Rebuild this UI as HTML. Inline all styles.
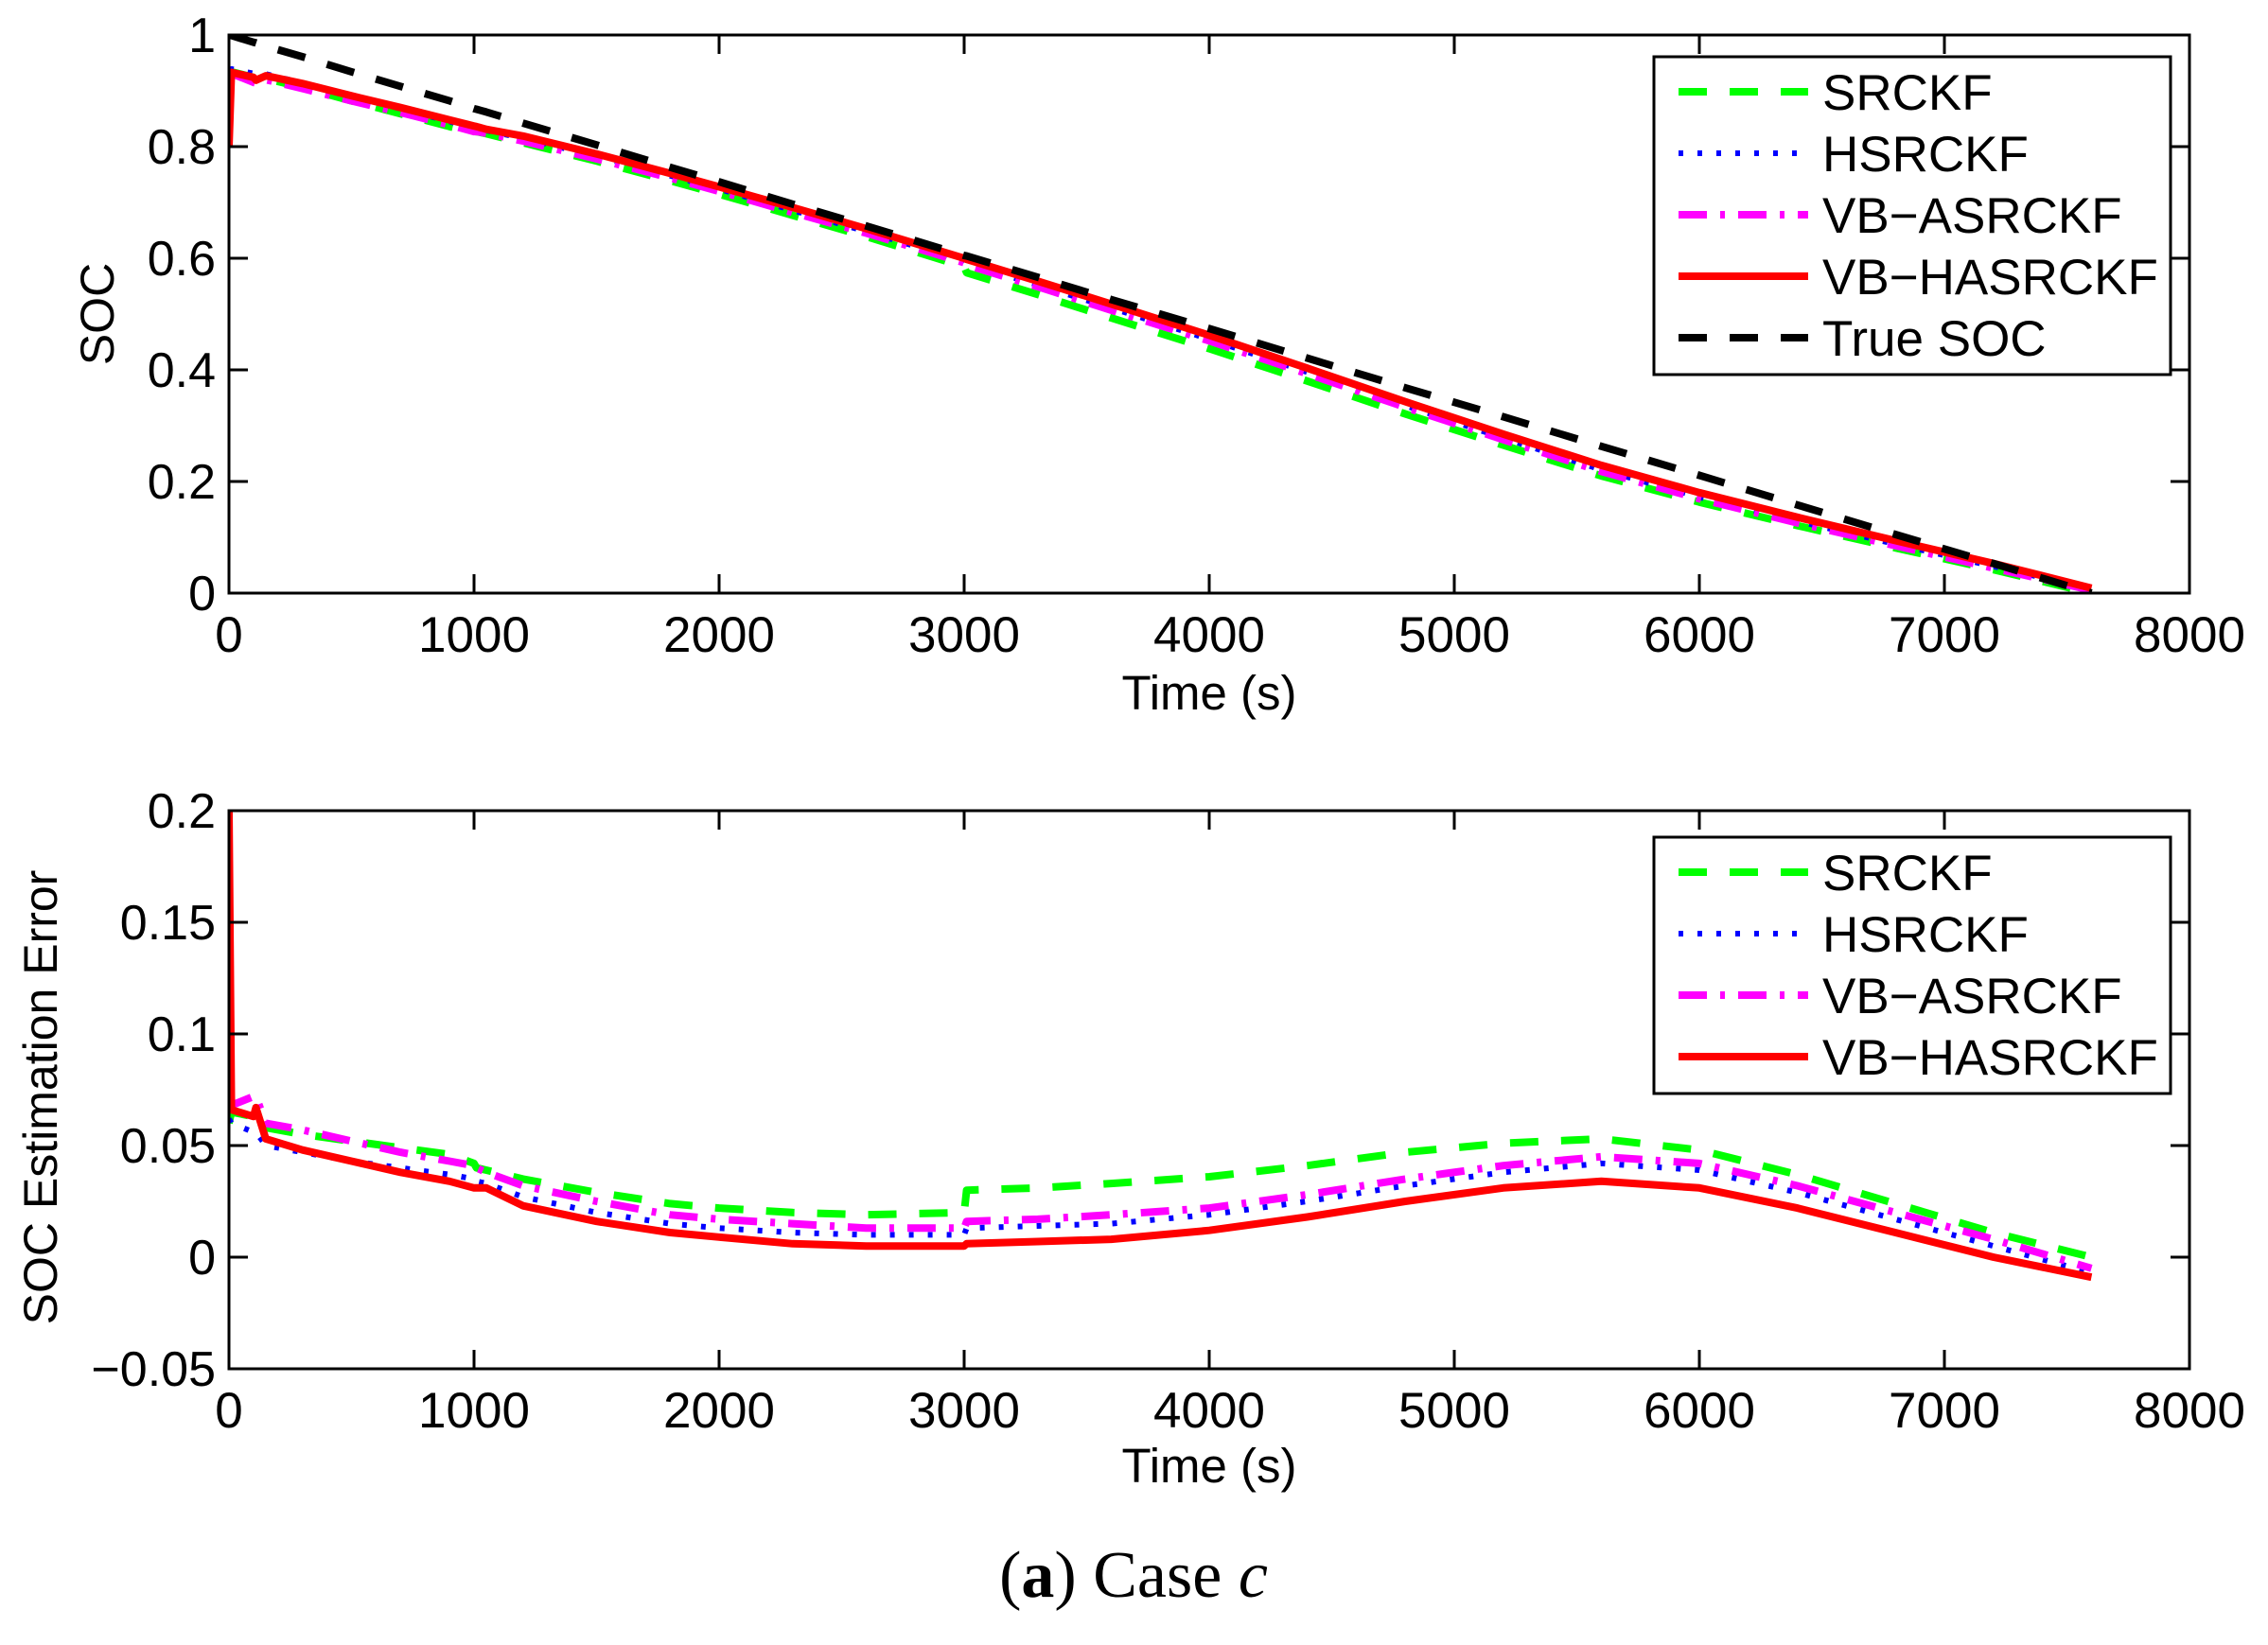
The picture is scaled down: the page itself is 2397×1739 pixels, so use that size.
<!DOCTYPE html>
<html><head><meta charset="utf-8"><style>
html,body{margin:0;padding:0;background:#fff;}
svg{display:block;}
text{font-family:"Liberation Sans",sans-serif;fill:#000;}
</style></head><body>
<svg id="fig" width="2397" height="1739" viewBox="0 0 2397 1739" xmlns="http://www.w3.org/2000/svg">
<defs>
<clipPath id="c1"><rect x="242" y="37" width="2072" height="590"/></clipPath>
<clipPath id="c2"><rect x="242" y="857" width="2072" height="590"/></clipPath>
</defs>
<g id="top"></g>
<g id="bot"></g>
<text x="1198" y="1688" text-anchor="middle" style="font-family:'Liberation Serif',serif;font-size:70px;">(<tspan font-weight="bold">a</tspan>) Case <tspan font-style="italic">c</tspan></text>
</svg>
<script>
const time=[0,10,100,110,150,300,500,700,900,1000,1010,1050,1200,1500,1800,2000,2300,2600,3000,3010,3300,3600,4000,4400,4800,5200,5600,6000,6400,6800,7200,7600];
const socTrue=[1.0,0.999,0.987,0.986,0.980,0.961,0.934,0.908,0.882,0.868,0.867,0.862,0.842,0.803,0.763,0.737,0.697,0.658,0.605,0.604,0.566,0.526,0.474,0.421,0.368,0.316,0.263,0.211,0.158,0.105,0.053,0.0];
const socSRCKF=[0.94,0.934,0.924,0.926,0.922,0.906,0.882,0.859,0.836,0.826,0.827,0.823,0.807,0.774,0.739,0.715,0.677,0.639,0.585,0.574,0.535,0.493,0.438,0.380,0.321,0.265,0.210,0.163,0.121,0.081,0.042,0.000];
const socHSRCKF=[0.938,0.939,0.931,0.930,0.930,0.914,0.891,0.868,0.845,0.833,0.833,0.829,0.815,0.783,0.748,0.724,0.686,0.648,0.595,0.591,0.552,0.511,0.455,0.396,0.336,0.278,0.221,0.172,0.129,0.088,0.048,0.007];
const socVBA=[0.935,0.931,0.915,0.914,0.920,0.904,0.882,0.861,0.839,0.827,0.827,0.824,0.810,0.778,0.744,0.720,0.682,0.645,0.592,0.588,0.549,0.507,0.452,0.393,0.333,0.275,0.218,0.169,0.126,0.085,0.045,0.005];
const socVBH=[0.80,0.933,0.924,0.919,0.927,0.913,0.891,0.870,0.848,0.837,0.836,0.831,0.819,0.787,0.752,0.728,0.691,0.653,0.600,0.598,0.559,0.518,0.462,0.403,0.343,0.285,0.229,0.180,0.136,0.094,0.053,0.009];
const errSRCKF=[0.06,0.065,0.063,0.06,0.058,0.055,0.052,0.049,0.046,0.042,0.040,0.039,0.035,0.029,0.024,0.022,0.020,0.019,0.020,0.030,0.031,0.033,0.036,0.041,0.047,0.051,0.053,0.048,0.037,0.024,0.011,0.000];
const errHSRCKF=[0.062,0.060,0.056,0.056,0.050,0.047,0.043,0.040,0.037,0.035,0.034,0.033,0.027,0.020,0.015,0.013,0.011,0.010,0.010,0.013,0.014,0.015,0.019,0.025,0.032,0.038,0.042,0.039,0.029,0.017,0.005,-0.007];
const errVBA=[0.065,0.068,0.072,0.072,0.060,0.057,0.052,0.047,0.043,0.041,0.040,0.038,0.032,0.025,0.019,0.017,0.015,0.013,0.013,0.016,0.017,0.019,0.022,0.028,0.035,0.041,0.045,0.042,0.032,0.020,0.008,-0.005];
const errVBH=[0.2,0.066,0.063,0.067,0.053,0.048,0.043,0.038,0.034,0.031,0.031,0.031,0.023,0.016,0.011,0.009,0.006,0.005,0.005,0.006,0.007,0.008,0.012,0.018,0.025,0.031,0.034,0.031,0.022,0.011,0.0,-0.009];
const xTicks=[0,1000,2000,3000,4000,5000,6000,7000,8000];
const xTickLabels=["0","1000","2000","3000","4000","5000","6000","7000","8000"];
const yTicksTop=[0,0.2,0.4,0.6,0.8,1];
const yTickLabelsTop=["0","0.2","0.4","0.6","0.8","1"];
const yTicksBot=[-0.05,0,0.05,0.1,0.15,0.2];
const yTickLabelsBot=["\u22120.05","0","0.05","0.1","0.15","0.2"];

const NS="http://www.w3.org/2000/svg";
function mk(tag,attrs,parent){const e=document.createElementNS(NS,tag);for(const k in attrs)e.setAttribute(k,attrs[k]);parent.appendChild(e);return e;}
const styles={
 green:{stroke:"#00ff00",dash:"30 24",w:8},
 blue:{stroke:"#0000ff",dash:"5 15",w:6},
 magenta:{stroke:"#ff00ff",dash:"30 14 5 14",w:8},
 red:{stroke:"#ff0000",dash:"",w:8},
 black:{stroke:"#000000",dash:"30 24",w:8}
};
function chart(g,cfg){
 const L=242,R=2314,T=cfg.top,B=cfg.bottom;
 const xs=v=>L+(v-0)/(8000-0)*(R-L);
 const ys=v=>B-(v-cfg.ymin)/(cfg.ymax-cfg.ymin)*(B-T);
 cfg.series.forEach(s=>{
  const st=styles[s.style];
  const p=mk("polyline",{points:time.map((t,i)=>xs(t).toFixed(1)+","+ys(s.data[i]).toFixed(1)).join(" "),fill:"none",stroke:st.stroke,"stroke-width":st.w,"stroke-dasharray":st.dash,"stroke-linejoin":"round","clip-path":"url(#"+cfg.clip+")"},g);
  
  
 });
 const box=mk("rect",{x:L,y:T,width:R-L,height:B-T,fill:"none",stroke:"#000","stroke-width":3},g);
 
 
 xTicks.forEach((v,i)=>{
  const x=xs(v);
  mk("line",{x1:x,y1:B,x2:x,y2:B-20,stroke:"#000","stroke-width":3},g);
  mk("line",{x1:x,y1:T,x2:x,y2:T+20,stroke:"#000","stroke-width":3},g);
  const t=mk("text",{x:x,y:B+62,"text-anchor":"middle","font-size":53},g);
  t.textContent=xTickLabels[i];
  
  
 });
 cfg.yt.forEach((v,i)=>{
  const y=ys(v);
  mk("line",{x1:L,y1:y,x2:L+20,y2:y,stroke:"#000","stroke-width":3},g);
  mk("line",{x1:R,y1:y,x2:R-20,y2:y,stroke:"#000","stroke-width":3},g);
  const t=mk("text",{x:228,y:y+18,"text-anchor":"end","font-size":52},g);
  t.textContent=cfg.ytl[i];
  
  
 });
 const xl=mk("text",{x:(L+R)/2,y:cfg.xlabelY,"text-anchor":"middle","font-size":51},g);
 xl.textContent="Time (s)";
 
 
 const yl=mk("text",{x:0,y:0,"text-anchor":"middle","font-size":50,transform:"translate("+cfg.ylabelX+","+cfg.ylabelY+") rotate(-90)"},g);
 yl.textContent=cfg.ylabel;
 
 
 const lg=mk("g",{},g);
 
 
 const lt=cfg.legTop,n=cfg.series.length;
 mk("rect",{x:1748,y:lt,width:546,height:n*65+11,fill:"#fff",stroke:"#000","stroke-width":3},lg);
 cfg.series.forEach((s,i)=>{
  const st=styles[s.style];const y=lt+37+i*65;
  mk("line",{x1:1774,y1:y,x2:1911,y2:y,stroke:st.stroke,"stroke-width":st.w,"stroke-dasharray":st.dash},lg);
  const t=mk("text",{x:1926,y:y+19,"font-size":53},lg);
  t.textContent=s.label;
  
  
 });
}
chart(document.getElementById("top"),{top:37,bottom:627,ymin:0,ymax:1,yt:yTicksTop,ytl:yTickLabelsTop,clip:"c1",
 xlabelY:750,ylabelX:120,ylabelY:332,ylabel:"SOC",legTop:60,
 series:[{name:"srckf",label:"SRCKF",style:"green",data:socSRCKF},{name:"hsrckf",label:"HSRCKF",style:"blue",data:socHSRCKF},
 {name:"vb-asrckf",label:"VB\u2212ASRCKF",style:"magenta",data:socVBA},{name:"vb-hasrckf",label:"VB\u2212HASRCKF",style:"red",data:socVBH},
 {name:"true-soc",label:"True SOC",style:"black",data:socTrue}]});
chart(document.getElementById("bot"),{top:857,bottom:1447,ymin:-0.05,ymax:0.2,yt:yTicksBot,ytl:yTickLabelsBot,clip:"c2",
 xlabelY:1567,ylabelX:60,ylabelY:1160,ylabel:"SOC Estimation Error",legTop:885,
 series:[{name:"srckf-error",label:"SRCKF",style:"green",data:errSRCKF},{name:"hsrckf-error",label:"HSRCKF",style:"blue",data:errHSRCKF},
 {name:"vb-asrckf-error",label:"VB\u2212ASRCKF",style:"magenta",data:errVBA},{name:"vb-hasrckf-error",label:"VB\u2212HASRCKF",style:"red",data:errVBH}]});
</script>
</body></html>
